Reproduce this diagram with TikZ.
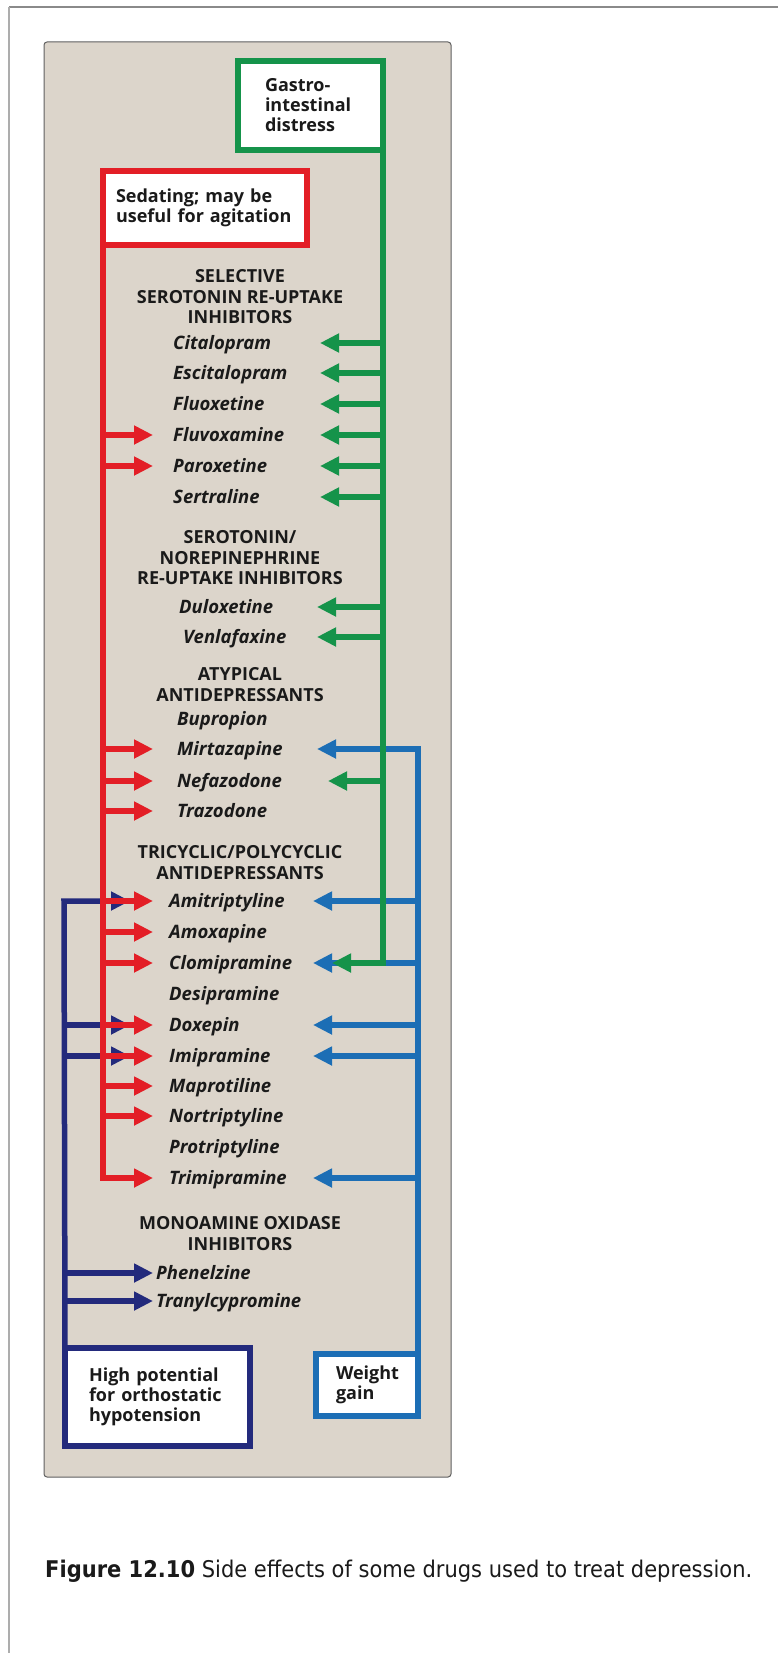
\documentclass[tikz,border=0pt]{standalone}
\usepackage{fontspec}
\usepackage{graphicx}
\setmainfont{Open Sans}
\newfontfamily\capfont{DejaVu Sans}
\usetikzlibrary{arrows.meta}
\definecolor{cgreen}{HTML}{15934A}
\definecolor{cred}{HTML}{E31E26}
\definecolor{cblue}{HTML}{1C6EB5}
\definecolor{cnavy}{HTML}{232A7C}
\definecolor{beige}{HTML}{DCD5CB}
\definecolor{ink}{HTML}{1A1A1A}
\definecolor{framec}{HTML}{8A8A8A}
\tikzset{
  link/.style={line width=5.5pt, line join=miter, -{Triangle[length=19pt,width=18pt]}},
  gl/.style={link, draw=cgreen},
  rl/.style={link, draw=cred},
  bl/.style={link, draw=cblue},
  nl/.style={link, draw=cnavy},
  sidebox/.style={draw, line width=6pt, fill=white, outer sep=0pt, inner sep=0pt,
    align=left, text=ink, font=\fontsize{18}{20}\selectfont\bfseries},
  drug/.style={anchor=west, inner sep=0pt, text height=13pt, text depth=0pt, text=ink,
    font=\fontsize{18.5}{20}\selectfont\bfseries\itshape},
  head/.style={anchor=north, inner sep=0pt, align=center, text=ink,
    font=\fontsize{18}{20.3}\selectfont\bfseries}
}
\begin{document}
\begin{tikzpicture}[x=1pt,y=-1pt]
\useasboundingbox (0,0) rectangle (778,1653);
% frame and panel
\draw[framec, line width=2.5pt] (9,7) -- (778,7);
\draw[framec!70, line width=2pt] (9,7) -- (9,1653);
\draw[fill=beige, draw=gray!75!black, line width=1pt, rounded corners=3pt] (44,42) rectangle (451,1477);

% headings
\node[head] (h1) at (240,269.5) {SELECTIVE\\SEROTONIN RE-UPTAKE\\INHIBITORS};
\node[head] (h2) at (240,530.5) {SEROTONIN/\\NOREPINEPHRINE\\RE-UPTAKE INHIBITORS};
\node[head] (h3) at (240,667.5) {ATYPICAL\\ANTIDEPRESSANTS};
\node[head] (h4) at (240,845.5) {TRICYCLIC/POLYCYCLIC\\ANTIDEPRESSANTS};
\node[head] (h5) at (240,1216.5) {MONOAMINE OXIDASE\\INHIBITORS};

% drugs
\node[drug] (cit) at (173,343) {Citalopram};
\node[drug] (esc) at (173,373) {Escitalopram};
\node[drug] (flx) at (173,404) {Fluoxetine};
\node[drug] (flv) at (173,435) {Fluvoxamine};
\node[drug] (par) at (173,466) {Paroxetine};
\node[drug] (ser) at (173,497) {Sertraline};
\node[drug] (dul) at (179,607) {Duloxetine};
\node[drug] (ven) at (183,637) {Venlafaxine};
\node[drug] (bup) at (177,719) {Bupropion};
\node[drug] (mir) at (177,749) {Mirtazapine};
\node[drug] (nef) at (177,781) {Nefazodone};
\node[drug] (tra) at (177,811) {Trazodone};
\node[drug] (ami) at (169,901) {Amitriptyline};
\node[drug] (amo) at (169,932) {Amoxapine};
\node[drug] (clo) at (169,963) {Clomipramine};
\node[drug] (des) at (169,994) {Desipramine};
\node[drug] (dox) at (169,1025) {Doxepin};
\node[drug] (imi) at (169,1056) {Imipramine};
\node[drug] (map) at (169,1086) {Maprotiline};
\node[drug] (nor) at (169,1116) {Nortriptyline};
\node[drug] (pro) at (169,1147) {Protriptyline};
\node[drug] (tri) at (169,1178) {Trimipramine};
\node[drug] (phe) at (156,1273) {Phenelzine};
\node[drug] (tcp) at (156,1301) {Tranylcypromine};

% reference x positions
\coordinate (nx) at (64,0);
\coordinate (nt) at (130,0);
\coordinate (nt2) at (153,0);
\coordinate (rx) at (103,0);
\coordinate (rt) at (153,0);
\coordinate (bx) at (418,0);
\coordinate (bt) at (313,0);
\coordinate (bt2) at (317,0);
\coordinate (gx) at (383,0);
\coordinate (gt) at (320,0);
\coordinate (gt2) at (317,0);
\coordinate (gt3) at (328,0);
\coordinate (gt4) at (332,0);

% boxes (positions only needed for anchors; drawn here)
\node[sidebox, draw=cgreen, minimum width=145pt, minimum height=89pt, text width=91pt] (gi) at (310.5,105.5) {Gastro-\\intestinal\\distress};
\node[sidebox, draw=cred, minimum width=204pt, minimum height=74pt, text width=178pt] (sed) at (205,208) {Sedating; may be\\useful for agitation};
\node[sidebox, draw=cnavy, minimum width=185pt, minimum height=98pt, text width=137pt] (hp) at (157.5,1397) {High potential\\for orthostatic\\hypotension};
\node[sidebox, draw=cblue, minimum width=102pt, minimum height=62pt, text width=62pt] (wg) at (367,1385) {Weight\\gain};

% navy (orthostatic hypotension)
\draw[nl] (hp.north west) -- (ami -| nx) -- (ami -| nt);
\draw[nl] (dox -| nx) -- (dox -| nt);
\draw[nl] (imi -| nx) -- (imi -| nt);
\draw[nl] (phe -| nx) -- (phe -| nt2);
\draw[nl] (tcp -| nx) -- (tcp -| nt2);

% red (sedating)
\draw[rl] (sed.south west) -- (tri -| rx) -- (tri -| rt);
\foreach \d in {flv,par,mir,nef,tra,ami,amo,clo,dox,imi,map,nor}
  \draw[rl] (\d -| rx) -- (\d -| rt);

% blue (weight gain)
\draw[bl] (wg.north east) -- (mir -| bx) -- (mir -| bt2);
\foreach \d in {ami,clo,dox,imi,tri}
  \draw[bl] (\d -| bx) -- (\d -| bt);

% green (GI distress)
\draw[gl] (gi.north east) -- (clo -| gx) -- (clo -| gt4);
\foreach \d in {cit,esc,flx,flv,par,ser}
  \draw[gl] (\d -| gx) -- (\d -| gt);
\foreach \d in {dul,ven}
  \draw[gl] (\d -| gx) -- (\d -| gt2);
\draw[gl] (nef -| gx) -- (nef -| gt3);

% caption
\node[anchor=base west, inner sep=0pt, text=ink] (cap) at (45,1577)
  {\resizebox{707pt}{\height}{\capfont\fontsize{23}{26}\selectfont\textbf{Figure 12.10} Side effects of some drugs used to treat depression.}};
\end{tikzpicture}
\end{document}
